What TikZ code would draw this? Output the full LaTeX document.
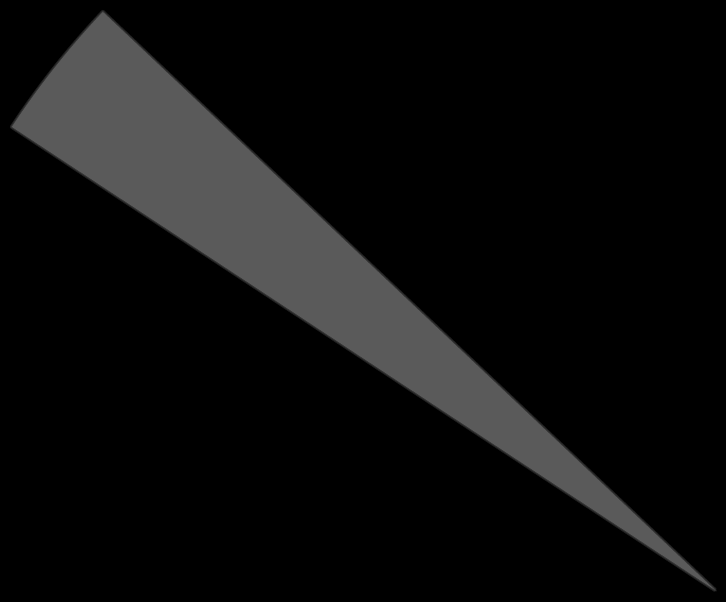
\documentclass[tikz,border=0pt]{standalone}
\usepackage{tikz}
\definecolor{wedgegray}{RGB}{90,90,90}
\begin{document}
\begin{tikzpicture}[x=1pt,y=1pt,
    wedge/.style={fill=wedgegray},
    softedge/.style={draw=wedgegray,line width=#1,opacity=0.35,line join=round}]
            \fill[black] (0,0) rectangle (726,602);
            \useasboundingbox (0,0) rectangle (726,602);
            \coordinate (tip) at (715,12);

            \foreach \w in {4pt,2pt} {
                \draw[softedge=\w] (tip) -- ++(136.64:842) arc[start angle=136.64,end angle=146.63,radius=842] -- cycle;
            }
            \fill[wedge] (tip) -- ++(136.64:842) arc[start angle=136.64,end angle=146.63,radius=842] -- cycle;
        \end{tikzpicture}
\end{document}
